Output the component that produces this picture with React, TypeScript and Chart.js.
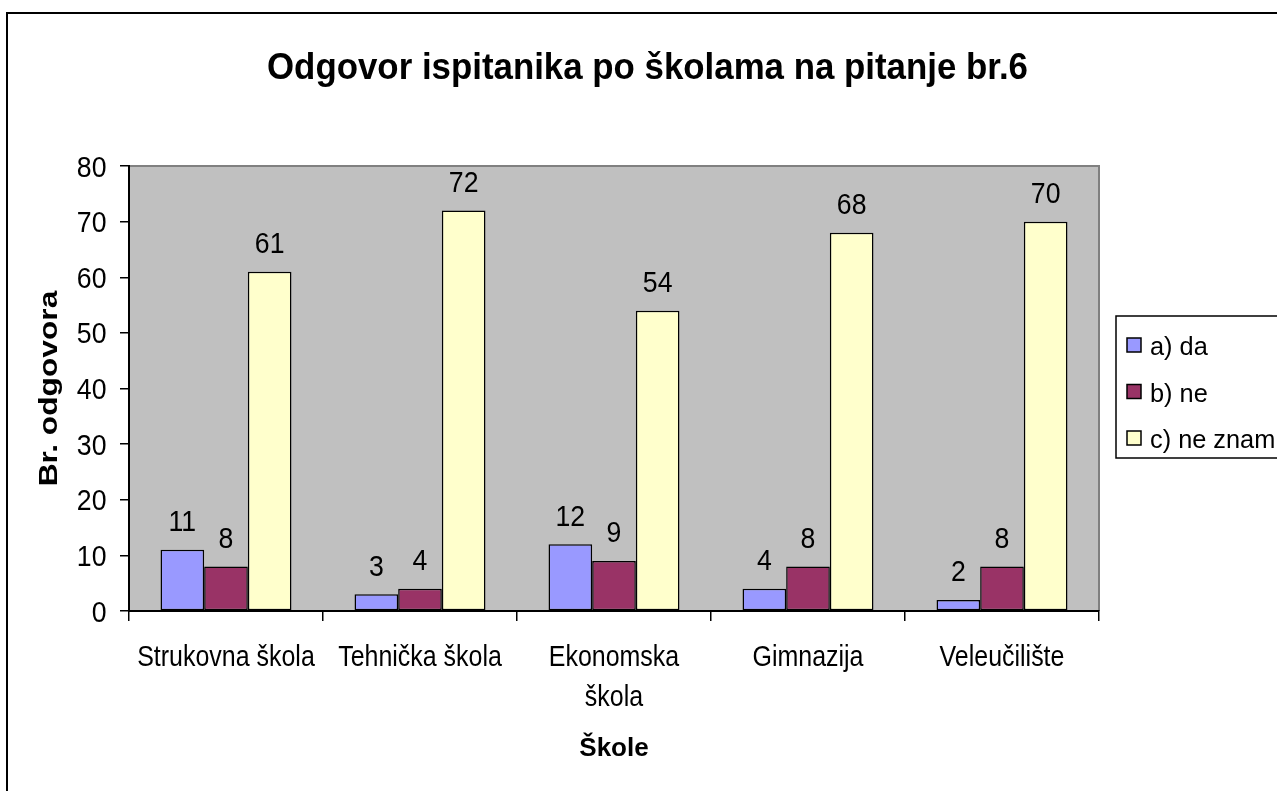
import React, { useEffect, useRef } from "react";
import { Chart, registerables } from "chart.js";

Chart.register(...registerables);

const TITLE = "Odgovor ispitanika po školama na pitanje br.6";
const Y_TITLE = "Br. odgovora";
const X_TITLE = "Škole";
const categories: (string | string[])[] = [
  "Strukovna škola",
  "Tehnička škola",
  ["Ekonomska", "škola"],
  "Gimnazija",
  "Veleučilište",
];
const seriesNames = ["a) da", "b) ne", "c) ne znam"];
const seriesA = [11, 3, 12, 4, 2];
const seriesB = [8, 4, 9, 8, 8];
const seriesC = [61, 72, 54, 68, 70];
const seriesColors = ["#9999FF", "#993366", "#FFFFCC"];
const yTicks = [0, 10, 20, 30, 40, 50, 60, 70, 80];

const FAMILY = '"Liberation Sans", Arial, Helvetica, sans-serif';

function fontStr(size: number, bold: boolean) {
  return `${bold ? "bold " : ""}${size}px ${FAMILY}`;
}

function scaleFor(ctx: CanvasRenderingContext2D, text: string, size: number, bold: boolean, target: number) {
  ctx.save();
  ctx.font = fontStr(size, bold);
  const m = ctx.measureText(text);
  ctx.restore();
  const ink = (m.actualBoundingBoxLeft || 0) + (m.actualBoundingBoxRight || m.width);
  return ink > 0 ? target / ink : 1;
}

function drawText(
  ctx: CanvasRenderingContext2D,
  text: string,
  x: number,
  y: number,
  size: number,
  bold: boolean,
  sx: number,
  align: CanvasTextAlign,
  rot = 0
) {
  ctx.save();
  ctx.translate(x, y);
  if (rot) ctx.rotate(rot);
  ctx.scale(sx, 1);
  ctx.font = fontStr(size, bold);
  ctx.textAlign = align;
  ctx.textBaseline = "alphabetic";
  ctx.fillStyle = "#000";
  ctx.fillText(text, 0, 0);
  ctx.restore();
}

const backgroundPlugin = {
  id: "plotBg",
  beforeDraw(chart: any) {
    const { ctx, chartArea } = chart;
    const { left, top, right, bottom } = chartArea;
    ctx.save();
    ctx.fillStyle = "#FFFFFF";
    ctx.fillRect(0, 0, chart.width, chart.height);
    ctx.fillStyle = "#C0C0C0";
    ctx.fillRect(left, top, right - left, bottom - top);
    ctx.strokeStyle = "#808080";
    ctx.lineWidth = 2;
    ctx.beginPath();
    ctx.moveTo(left, top);
    ctx.lineTo(right, top);
    ctx.lineTo(right, bottom);
    ctx.stroke();
    ctx.restore();
  },
};

const textPlugin = {
  id: "texts",
  afterDraw(chart: any) {
    const { ctx, chartArea } = chart;
    const xs = chart.scales.x;
    const ys = chart.scales.y;

    // outer chart border
    ctx.save();
    ctx.strokeStyle = "#000";
    ctx.lineWidth = 2;
    ctx.strokeRect(7, 13, 1300, 800);
    ctx.restore();

    // title
    const sTitle = scaleFor(ctx, TITLE, 36, true, 759);
    drawText(ctx, TITLE, 647.5, 78.5, 36, true, sTitle, "center");

    // y axis title (rotated)
    const sYT = scaleFor(ctx, Y_TITLE, 26, true, 195);
    drawText(ctx, Y_TITLE, 56.5, (chartArea.top + chartArea.bottom) / 2, 26, true, sYT, "center", -Math.PI / 2);

    // x axis title
    const sXT = scaleFor(ctx, X_TITLE, 26, true, 69);
    drawText(ctx, X_TITLE, (chartArea.left + chartArea.right) / 2, 756, 26, true, sXT, "center");

    // y tick labels
    const sDig = scaleFor(ctx, "80", 29, false, 27.7);
    yTicks.forEach((v) => {
      const y = ys.getPixelForValue(v);
      drawText(ctx, String(v), 106.5, y + 10.5, 29, false, sDig, "right");
    });

    // x tick labels
    const sTick = scaleFor(ctx, "Strukovna škola", 30, false, 177);
    categories.forEach((c, i) => {
      const x = xs.getPixelForValue(i);
      const lines = Array.isArray(c) ? c : [c];
      lines.forEach((ln, j) => {
        drawText(ctx, ln, x, 666 + j * 40, 30, false, sTick, "center");
      });
    });

    // data labels
    chart.data.datasets.forEach((ds: any, di: number) => {
      const meta = chart.getDatasetMeta(di);
      meta.data.forEach((el: any, i: number) => {
        drawText(ctx, String(ds.data[i]), el.x, el.y - 18.5, 29, false, sDig, "center");
      });
    });

    // legend
    ctx.save();
    ctx.fillStyle = "#FFFFFF";
    ctx.fillRect(1116, 316, 200, 142);
    ctx.strokeStyle = "#000";
    ctx.lineWidth = 1.5;
    ctx.strokeRect(1116, 316, 200, 142);
    ctx.restore();
    const sLeg = scaleFor(ctx, "c) ne znam", 26, false, 122.7);
    seriesNames.forEach((name, i) => {
      const base = 355 + i * 46.5;
      ctx.save();
      ctx.fillStyle = seriesColors[i];
      ctx.fillRect(1127, base - 17, 14, 14);
      ctx.strokeStyle = "#000";
      ctx.lineWidth = 1.5;
      ctx.strokeRect(1127, base - 17, 14, 14);
      ctx.restore();
      drawText(ctx, name, 1150, base, 26, false, sLeg, "left");
    });
  },
};

export default function App() {
  const ref = useRef<HTMLCanvasElement | null>(null);

  useEffect(() => {
    if (!ref.current) return;
    const series = [seriesA, seriesB, seriesC];
    const chart = new Chart(ref.current, {
      type: "bar",
      data: {
        labels: categories as any,
        datasets: series.map((d, i) => ({
          label: seriesNames[i],
          data: d,
          backgroundColor: seriesColors[i],
          borderColor: "#000000",
          borderWidth: 1.5,
          borderSkipped: false as any,
          categoryPercentage: 0.675,
          barPercentage: 1,
        })),
      },
      options: {
        responsive: false,
        maintainAspectRatio: false,
        devicePixelRatio: 1,
        animation: false,
        layout: { padding: { left: 0, top: 166, right: 178, bottom: 0 } },
        plugins: {
          legend: { display: false },
          title: { display: false },
          tooltip: { enabled: false },
        },
        scales: {
          x: {
            type: "category",
            ticks: { display: false },
            grid: {
              offset: true,
              drawOnChartArea: false,
              drawTicks: true,
              tickLength: 10,
              color: "#000",
              lineWidth: 1.5,
            },
            border: { display: true, color: "#000", width: 2 },
            afterFit: (s: any) => {
              s.height = 180;
            },
          },
          y: {
            min: 0,
            max: 80,
            ticks: { display: false, stepSize: 10 },
            grid: {
              drawOnChartArea: false,
              drawTicks: true,
              tickLength: 9,
              color: "#000",
              lineWidth: 1.5,
            },
            border: { display: true, color: "#000", width: 2 },
            afterFit: (s: any) => {
              s.width = 129;
            },
          },
        },
      },
      plugins: [backgroundPlugin, textPlugin],
    });
    return () => chart.destroy();
  }, []);

  return (
    <div style={{ position: "absolute", left: 0, top: 0, width: 1277, height: 791, background: "#fff", overflow: "hidden" }}>
      <canvas ref={ref} width={1277} height={791} style={{ width: "1277px", height: "791px", display: "block" }} />
    </div>
  );
}
